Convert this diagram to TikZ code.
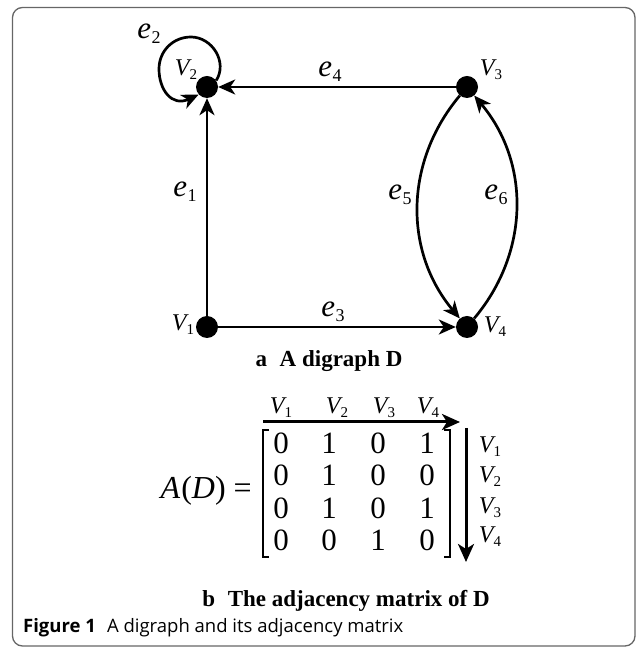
\documentclass[tikz,border=0pt]{standalone}
\usepackage{fontspec}
\setmainfont{Liberation Serif}
\newfontfamily\capfont{Open Sans}
\usetikzlibrary{arrows.meta}
\newcommand\fs[1]{\fontsize{#1}{#1}\selectfont}
\newcommand\Vl[1]{{\fs{24}\textit{V}}\kern-2pt\raisebox{-4pt}{\fs{15}#1}}
\newcommand\El[1]{{\fs{31}\textit{e}}\kern0.5pt\raisebox{-5pt}{\fs{18}#1}}
\begin{document}
\begin{tikzpicture}[x=1pt,y=1pt,
  vert/.style={circle,fill=black,minimum size=22pt,inner sep=0pt},
  arr/.style={line width=2.7pt,-{Stealth[length=17pt,width=15pt,inset=5pt]}},
  marr/.style={line width=3pt,-{Stealth[length=18pt,width=16pt,inset=5pt]}},
  lbl/.style={inner sep=0pt},
  num/.style={inner sep=0pt,font=\fs{31}},
  brk/.style={line width=1.8pt},
  frame/.style={draw=black!60,line width=1.3pt,rounded corners=10pt}]
\useasboundingbox (0,0) rectangle (637,648);
\draw[frame] (12.5,2) rectangle (635,640.5);
% vertices
\node[vert] (V1) at (207,321) {};
\node[vert] (V2) at (207,561) {};
\node[vert] (V3) at (467,561) {};
\node[vert] (V4) at (467,321) {};
% edges
\draw[arr] (V1) -- (V2);
\draw[arr] (V3) -- (V2);
\draw[arr] (V1) -- (V4);
\draw[arr] (V3) to[bend right=40] (V4);
\draw[arr] (V4) to[bend right=40] (V3);
\draw[arr] (V2.35) .. controls (228,586) and (212,611) .. (191,611)
  .. controls (173,611) and (159,597) .. (159,579)
  .. controls (159,558) and (172,541) .. (V2.222);
% labels
\node[lbl] (le1) at (185,456) {\El{1}};
\node[lbl] (le2) at (149,614) {\El{2}};
\node[lbl] (le3) at (333,336) {\El{3}};
\node[lbl] (le4) at (330,576) {\El{4}};
\node[lbl] (le5) at (400,453) {\El{5}};
\node[lbl] (le6) at (496,453) {\El{6}};
\node[lbl] (lv1) at (183,323) {\Vl{1}};
\node[lbl] (lv2) at (186,578) {\Vl{2}};
\node[lbl] (lv3) at (491,578) {\Vl{3}};
\node[lbl] (lv4) at (495,321) {\Vl{4}};
\node[lbl] (capa) at (329,287) {\fs{23}\bfseries a\hspace{0.55em}A digraph D};
% matrix
\node[lbl,anchor=east] (AD) at (252,157) {\fs{32}\textit{A}\kern1pt(\textit{D}) =};
\foreach \r/\y/\vals in {1/205/{0,1,0,1},2/173/{0,1,0,0},3/140/{0,1,0,1},4/108/{0,0,1,0}}{
  \foreach \v [count=\c] in \vals {
    \pgfmathsetmacro{\xx}{{281,329,378,427}[\c-1]}
    \node[num] (m\r\c) at (\xx,\y) {\v};
  }
}
\draw[brk] (269,218) -- (263,218) -- (263,91) -- (269,91);
\draw[brk] (444,218) -- (450,218) -- (450,91) -- (444,91);
\coordinate (hs) at (263,226);
\coordinate (he) at (460,226);
\draw[marr] (hs) -- (he);
\coordinate (vs) at (466,220);
\coordinate (ve) at (466,86);
\draw[marr] (vs) -- (ve);
\node[lbl] (t1) at (281,240) {\Vl{1}};
\node[lbl] (t2) at (337,240) {\Vl{2}};
\node[lbl] (t3) at (384,240) {\Vl{3}};
\node[lbl] (t4) at (428,240) {\Vl{4}};
\node[lbl] (r1) at (490,201) {\Vl{1}};
\node[lbl] (r2) at (490,171) {\Vl{2}};
\node[lbl] (r3) at (490,140) {\Vl{3}};
\node[lbl] (r4) at (490,111) {\Vl{4}};
\node[lbl] (capb) at (346,47) {\fs{23}\bfseries b\hspace{0.55em}The adjacency matrix of D};
\node[lbl,anchor=west] (fig) at (23,20) {\capfont\fs{18.5}\textbf{Figure 1}\hspace{0.6em}A digraph and its adjacency matrix};
\end{tikzpicture}
\end{document}
